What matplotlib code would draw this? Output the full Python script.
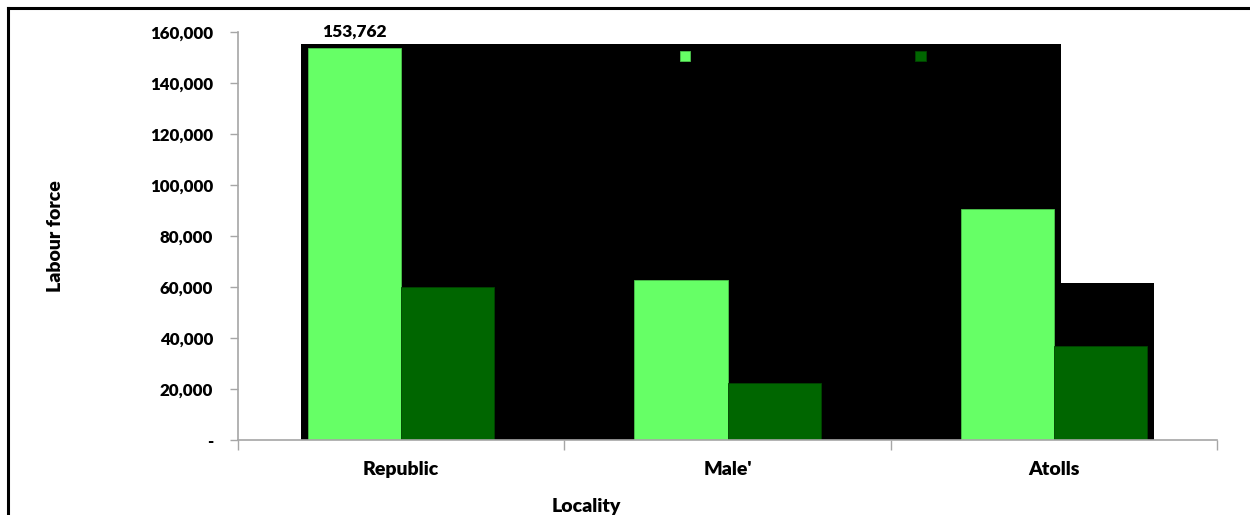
# labour force by locality, recreated from the excel style chart
import numpy as np
import matplotlib
matplotlib.use('Agg')
import matplotlib.pyplot as plt
from matplotlib.lines import Line2D
from matplotlib.ticker import FuncFormatter

plt.rcParams['font.family'] = ['Lato', 'DejaVu Sans']
plt.rcParams['font.weight'] = 'heavy'

localities = ["Republic", "Male'", "Atolls"]
series_a = [153762, 62700, 90400]     # light green bars
series_b = [59800, 22400, 37000]      # dark green bars
value_labels = ["153,762", None, None]

# black background blocks behind the bars (as in the source image)
block_left = [-0.306, 2.023]
block_right = [2.023, 2.307]
block_top = [155200, 61600]

light = '#66FF66'
dark = '#006600'
axis_grey = '#A6A6A6'

fig = plt.figure(figsize=(12.5, 5.15), dpi=100)
ax = fig.add_axes([0.1904, 0.1456, 0.7832, 0.7928])

x = np.arange(len(localities))
w = 1 / 3.5                                  # gap width 150%

# background blocks
bl = np.array(block_left)
br = np.array(block_right)
ax.bar(bl, block_top, width=br - bl, align='edge', color='black', zorder=1)

bars_a = ax.bar(x - w / 2, series_a, width=w, color=light, edgecolor='#4CC44C',
                linewidth=0.6, zorder=2)
bars_b = ax.bar(x + w / 2, series_b, width=w, color=dark, edgecolor='#004400',
                linewidth=0.6, zorder=2)

for rect, lab in zip(bars_a, value_labels):
    if lab:
        ax.text(rect.get_x() + rect.get_width() / 2, rect.get_height() + 3300, lab,
                ha='center', va='bottom', fontsize=12.5, fontweight='heavy')

ax.set_xlim(-0.5, len(localities) - 0.5)
ax.set_ylim(0, 160000)
ax.set_yticks(np.arange(0, 160001, 20000))
ax.yaxis.set_major_formatter(FuncFormatter(lambda v, p: '-' if v == 0 else '{:,.0f}'.format(v)))

ax.set_xticks(x)
ax.set_xticklabels(localities)
ax.set_xticks(np.arange(-0.5, len(localities)), minor=True)
ax.tick_params(axis='x', which='major', length=0, pad=15, labelsize=14)
ax.tick_params(axis='x', which='minor', length=7, width=1, color=axis_grey)
ax.tick_params(axis='y', length=6, width=1, color=axis_grey, pad=12, labelsize=12.2)

for s in ['top', 'right']:
    ax.spines[s].set_visible(False)
for s in ['left', 'bottom']:
    ax.spines[s].set_color(axis_grey)
    ax.spines[s].set_linewidth(1.2)
    ax.spines[s].set_zorder(3)

ax.set_ylabel('Labour force', fontsize=14, fontweight='heavy')
ax.yaxis.set_label_coords(-0.178, 0.5)
ax.set_xlabel('Locality', fontsize=14, fontweight='heavy')
ax.xaxis.set_label_coords(0.3555, -0.142)

# legend with no visible text (black on black in the source)
leg = ax.legend([bars_a, bars_b], ['', ''], ncol=2, frameon=False,
                loc='upper left', bbox_to_anchor=(0.544, 0.903),
                bbox_transform=fig.transFigure, borderaxespad=0, borderpad=0,
                handlelength=0.75, handleheight=0.75, handletextpad=0,
                columnspacing=16.2, fontsize=10)

# outer frame (only top and left edge visible)
fig.add_artist(Line2D([0.0064, 0.0064], [0, 0.9845], color='black', linewidth=2.2))
fig.add_artist(Line2D([0.0064, 1.0], [0.9845, 0.9845], color='black', linewidth=2.2))

fig.savefig('out.png', dpi=100)
